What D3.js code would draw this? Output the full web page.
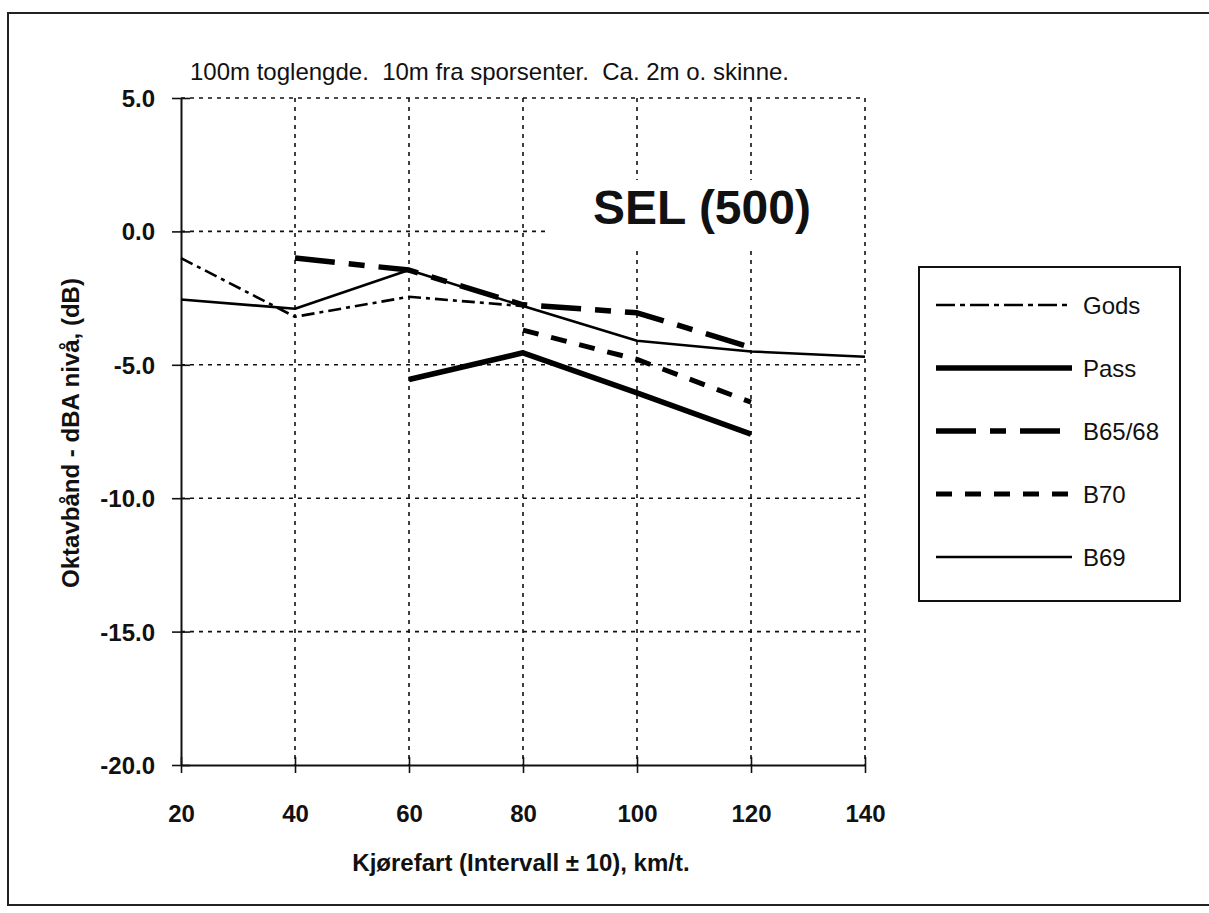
<!DOCTYPE html>
<html>
<head>
<meta charset="utf-8">
<script src="https://cdn.jsdelivr.net/npm/d3@7"></script>
<style>
  body { margin: 0; background: #fff; }
  text { font-family: Arial, "Liberation Sans", Helvetica, sans-serif; fill: #111; }
</style>
</head>
<body>
<div id="chart-area"></div>
<script>
/* Data */

const speeds = [20, 40, 60, 80, 100, 120, 140]
const gods   = [-1.0, -3.2, -2.45, -2.8, null, null, null]
const pass   = [null, null, -5.55, -4.55, -6.05, -7.6, null]
const b6568  = [null, -1.0, -1.45, -2.75, -3.05, -4.35, null]
const b70    = [null, null, null, -3.7, -4.8, -6.4, null]
const b69    = [-2.55, -2.9, -1.45, -2.8, -4.1, -4.5, -4.7]

const yTicks = [5, 0, -5, -10, -15, -20]
const seriesNames = ["Gods", "Pass", "B65/68", "B70", "B69"]

/* Chart area */

const W = 1209, H = 913
const MARGIN = { LEFT: 181, TOP: 98 }
const WIDTH = 865 - MARGIN.LEFT
const HEIGHT = 765 - MARGIN.TOP

const svg = d3.select("#chart-area").append("svg")
  .attr("width", W)
  .attr("height", H)

svg.append("rect").attr("width", W).attr("height", H).attr("fill", "#fff")

// outer frame of the scanned page
svg.append("rect")
  .attr("x", 8).attr("y", 13)
  .attr("width", W + 20).attr("height", 892)
  .attr("fill", "none")
  .attr("stroke", "#222")
  .attr("stroke-width", 2)

const g = svg.append("g")
  .attr("transform", `translate(${MARGIN.LEFT}, ${MARGIN.TOP})`)

// scales
const x = d3.scaleLinear().domain([20, 140]).range([0, WIDTH])
const y = d3.scaleLinear().domain([-20, 5]).range([HEIGHT, 0])

// dotted grid
const grid = g.append("g")
  .attr("stroke", "#111")
  .attr("stroke-width", 1.6)
  .attr("stroke-dasharray", "4,5")

grid.selectAll(".hgrid")
  .data(yTicks.filter(t => t > -20))
  .enter().append("line")
  .attr("x1", 0).attr("x2", WIDTH)
  .attr("y1", d => y(d)).attr("y2", d => y(d))

grid.selectAll(".vgrid")
  .data(speeds.slice(1))
  .enter().append("line")
  .attr("x1", d => x(d)).attr("x2", d => x(d))
  .attr("y1", 0).attr("y2", HEIGHT)

// subtitle (double spaces kept as in the scan)
svg.append("text")
  .attr("x", 190).attr("y", 80)
  .attr("xml:space", "preserve")
  .style("white-space", "pre")
  .style("font-size", "24px")
  .text("100m toglengde.  10m fra sporsenter.  Ca. 2m o. skinne.")

// big title, on a white patch that hides the grid behind it
svg.append("rect")
  .attr("x", 545).attr("y", 180)
  .attr("width", 317).attr("height", 68)
  .attr("fill", "#fff")
svg.append("text")
  .attr("x", 702).attr("y", 224)
  .attr("text-anchor", "middle")
  .style("font-size", "48px")
  .style("font-weight", "bold")
  .text("SEL (500)")

// axes
const xAxis = g.append("g")
  .attr("transform", `translate(0, ${HEIGHT})`)
  .call(d3.axisBottom(x).tickValues(speeds).tickSize(8).tickSizeOuter(0).tickPadding(32))
const yAxis = g.append("g")
  .call(d3.axisLeft(y).tickValues(yTicks).tickFormat(d3.format(".1f")).tickSize(9).tickSizeOuter(0).tickPadding(17))

;[xAxis, yAxis].forEach(a => {
  a.select(".domain").attr("stroke", "#111").attr("stroke-width", 2)
  a.selectAll(".tick line").attr("stroke", "#111").attr("stroke-width", 1.6)
  a.selectAll(".tick text")
    .attr("fill", "#111")
    .style("font-family", "Arial, 'Liberation Sans', sans-serif")
    .style("font-size", "24px")
    .style("font-weight", "bold")
})
// x ticks cross the axis line
xAxis.selectAll(".tick line").attr("y1", -8)
yAxis.selectAll(".tick line").attr("x2", 9).attr("x1", -9)
yAxis.selectAll(".tick text").attr("x", -26).attr("dy", "0.35em")
// the minus in the scan is a plain hyphen
yAxis.selectAll(".tick text").text(d => d3.format(".1f")(d).replace("−", "-"))

// axis titles
svg.append("text")
  .attr("x", 521).attr("y", 871)
  .attr("text-anchor", "middle")
  .style("font-size", "24px")
  .style("font-weight", "bold")
  .text("Kjørefart (Intervall ± 10), km/t.")

svg.append("text")
  .attr("transform", "translate(79, 433) rotate(-90)")
  .attr("text-anchor", "middle")
  .style("font-size", "24px")
  .style("font-weight", "bold")
  .text("Oktavbånd - dBA nivå, (dB)")

/* Series lines */

const styles = {
  "Gods":   { values: gods,  width: 2.6, dash: "13,5,4,5" },
  "Pass":   { values: pass,  width: 5.5, dash: null },
  "B65/68": { values: b6568, width: 5.5, dash: "40,14,16,14" },
  "B70":    { values: b70,   width: 5,   dash: "16,13" },
  "B69":    { values: b69,   width: 2.6, dash: null }
}

const line = d3.line()
  .defined(d => d.v !== null)
  .x(d => x(d.s))
  .y(d => y(d.v))

seriesNames.forEach(name => {
  const st = styles[name]
  const pts = speeds.map((s, i) => ({ s: s, v: st.values[i] }))
  g.append("path")
    .attr("d", line(pts))
    .attr("fill", "none")
    .attr("stroke", "#000")
    .attr("stroke-width", st.width)
    .attr("stroke-linejoin", "round")
    .attr("stroke-dasharray", st.dash)
})

/* Legend */

const legend = svg.append("g")
legend.append("rect")
  .attr("x", 919).attr("y", 267)
  .attr("width", 261).attr("height", 334)
  .attr("fill", "#fff")
  .attr("stroke", "#111")
  .attr("stroke-width", 2)

const rowY = d3.scalePoint().domain(seriesNames).range([305, 557])

seriesNames.forEach(name => {
  const st = styles[name]
  legend.append("line")
    .attr("x1", 936).attr("x2", 1072)
    .attr("y1", rowY(name)).attr("y2", rowY(name))
    .attr("stroke", "#000")
    .attr("stroke-width", st.width)
    .attr("stroke-dasharray", name === "Gods" ? "19,5,5,5" : st.dash)
  legend.append("text")
    .attr("x", 1083).attr("y", rowY(name) + 9)
    .style("font-size", "24px")
    .text(name)
})
</script>
</body>
</html>
